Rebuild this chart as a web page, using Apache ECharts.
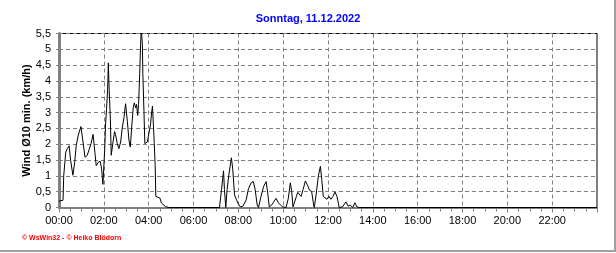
<!DOCTYPE html>
<html>
<head>
<meta charset="utf-8">
<script src="https://cdn.jsdelivr.net/npm/echarts@6/dist/echarts.min.js"></script>
<style>
html,body{margin:0;padding:0;background:#fff;}
#c{width:616px;height:253px;}
</style>
</head>
<body>
<div id="c"></div>
<script>
// Time of day in hours and the 10-min wind average (km/h)
const hours = [
  0, 0.18, 0.21, 0.30, 0.37, 0.45, 0.52, 0.62, 0.70, 0.77, 0.86, 0.98, 1.07, 1.16, 1.26, 1.34, 1.43, 1.52, 1.60, 1.66,
  1.75, 1.84, 1.90, 1.96, 2.04, 2.08, 2.12, 2.17, 2.20, 2.24, 2.29, 2.33, 2.41, 2.48, 2.52, 2.60, 2.67, 2.75, 2.82, 2.90,
  2.97, 3.05, 3.12, 3.18, 3.24, 3.31, 3.36, 3.42, 3.46, 3.51, 3.55, 3.60, 3.64, 3.67, 3.72, 3.74, 3.79, 3.83, 3.94, 4.01,
  4.08, 4.13, 4.17, 4.20, 4.25, 4.29, 4.32, 4.35, 4.50, 4.57, 4.65, 4.75, 4.90,
  7.16, 7.25, 7.34, 7.38, 7.44, 7.50, 7.57, 7.65, 7.69, 7.75, 7.83, 7.92, 8.00, 8.09, 8.20, 8.35, 8.45, 8.57, 8.67, 8.75,
  8.84, 8.90, 9.01, 9.13, 9.24, 9.31, 9.38, 9.49, 9.58, 9.68, 9.79, 9.88, 9.98, 10.13, 10.23, 10.32, 10.38, 10.44, 10.50, 10.59,
  10.65, 10.72, 10.80, 10.89, 10.99, 11.09, 11.18, 11.27, 11.36, 11.39, 11.48, 11.57, 11.66, 11.72, 11.79, 11.87, 11.95, 12.04, 12.13, 12.22,
  12.31, 12.40, 12.50, 12.65, 12.80, 12.90, 12.99, 13.10, 13.20, 13.29, 13.39, 24
];
const wind = [
  0.20, 0.23, 1.00, 1.75, 1.86, 1.95, 1.48, 1.02, 1.43, 1.97, 2.29, 2.56, 2.07, 1.59, 1.65, 1.70, 2.02, 2.31, 1.75, 1.32,
  1.43, 1.46, 1.22, 0.73, 1.86, 2.67, 3.10, 3.74, 4.57, 3.69, 2.83, 1.65, 2.07, 2.40, 2.31, 2.02, 1.86, 2.07, 2.51, 2.85,
  3.28, 2.72, 2.13, 1.91, 2.51, 3.15, 3.31, 3.15, 3.26, 2.91, 3.26, 4.23, 5.14, 5.68, 5.14, 4.23, 3.04, 2.02, 2.07, 2.13,
  2.61, 2.99, 3.20, 2.77, 2.02, 1.32, 0.35, 0.30, 0.30, 0.14, 0.09, 0.03, 0,
  0, 0.57, 1.16, 0.57, 0, 0.57, 1.00, 1.38, 1.57, 1.22, 0.40, 0.24, 0.11, 0.02, 0.04, 0.24, 0.59, 0.78, 0.82, 0.57,
  0.08, 0, 0.35, 0.67, 0.82, 0.46, 0.02, 0.08, 0.18, 0.29, 0.15, 0.08, 0.02, 0, 0.29, 0.78, 0.51, 0.02, 0.08, 0.35,
  0.48, 0.43, 0.35, 0.57, 0.84, 0.70, 0.54, 0.51, 0.08, 0, 0.46, 1.00, 1.30, 0.89, 0.35, 0.29, 0.26, 0.35, 0.26, 0.35,
  0.49, 0.35, 0, 0.02, 0.18, 0.04, 0.08, 0, 0.15, 0.02, 0, 0
];
const titleText = 'Sonntag, 11.12.2022';
const yAxisName = 'Wind Ø10 min. (km/h)';
const footerText = '© WsWin32 - © Heiko Blödorn';

const FONT = 'Liberation Sans, Arial, sans-serif';
const chart = echarts.init(document.getElementById('c'), null, {renderer: 'canvas'});
const pad = n => (n < 10 ? '0' : '') + n;
chart.setOption({
  animation: false,
  backgroundColor: '#fff',
  title: {
    text: titleText, left: 'center', top: 13, padding: 0,
    textStyle: {color: '#0000ff', fontWeight: 'bold', fontSize: 11, fontFamily: FONT}
  },
  grid: {
    left: 59, right: 19, top: 33.5, bottom: 45.5,
    show: true, borderColor: '#000', borderWidth: 1, backgroundColor: '#fff'
  },
  xAxis: {
    type: 'value', min: 0, max: 24, interval: 2,
    axisLine: {show: true, onZero: false, lineStyle: {color: '#808080', width: 2}},
    axisTick: {show: true, length: 5, lineStyle: {color: '#808080'}},
    minorTick: {show: true, splitNumber: 4, length: 4, lineStyle: {color: '#808080'}},
    splitLine: {show: true, lineStyle: {color: '#808080', type: [4, 3], width: 1}},
    axisLabel: {
      color: '#000', fontSize: 11, fontFamily: FONT, margin: 8, showMaxLabel: false,
      formatter: v => (v < 24 ? pad(v) + ':00' : '')
    }
  },
  yAxis: {
    type: 'value', min: 0, max: 5.5, interval: 0.5,
    name: yAxisName, nameLocation: 'middle', nameGap: 27, nameRotate: 90, nameMoveOverlap: false,
    nameTextStyle: {color: '#000', fontWeight: 'bold', fontSize: 11, fontFamily: FONT},
    axisLine: {show: true, lineStyle: {color: '#808080', width: 3}},
    axisTick: {show: true, length: 3, lineStyle: {color: '#808080'}},
    splitLine: {show: true, lineStyle: {color: '#808080', type: [4, 3], width: 1}},
    axisLabel: {
      color: '#000', fontSize: 11, fontFamily: FONT, margin: 8,
      formatter: v => String(v).replace('.', ',')
    }
  },
  series: [{
    type: 'line',
    data: hours.map((h, i) => [h, wind[i]]),
    showSymbol: false, symbol: 'none', clip: true,
    lineStyle: {color: '#000', width: 1},
    z: 5
  }],
  graphic: [
    {type: 'text', left: 22, top: 235, style: {text: footerText, fill: '#ff0000', font: 'bold 7px ' + FONT}},
    {type: 'line', shape: {x1: 615, y1: 0, x2: 615, y2: 252}, style: {stroke: '#a0a0a0', lineWidth: 2}},
    {type: 'line', shape: {x1: 0, y1: 251, x2: 616, y2: 251}, style: {stroke: '#a0a0a0', lineWidth: 2}}
  ]
});
</script>
</body>
</html>
